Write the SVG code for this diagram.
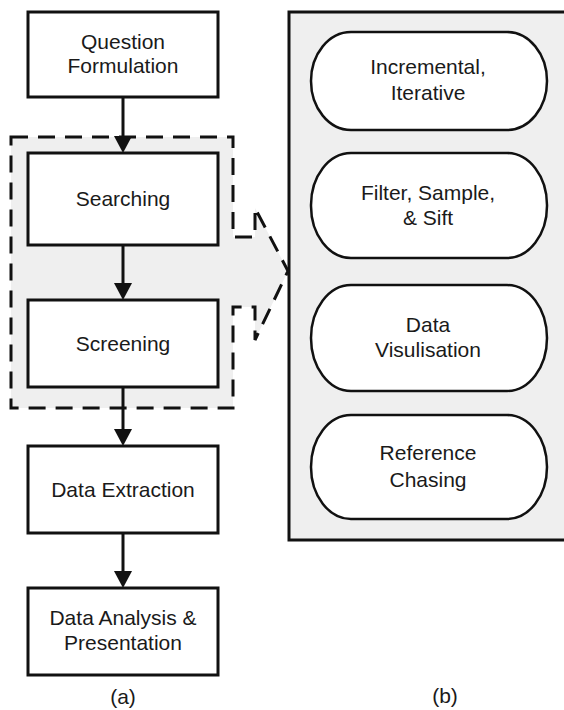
<svg xmlns="http://www.w3.org/2000/svg" width="564" height="710" viewBox="0 0 564 710">
  <style>
    .box { fill: #ffffff; stroke: #111111; stroke-width: 3; }
    .pill { fill: #ffffff; stroke: #111111; stroke-width: 2.5; }
    .panel { fill: #efefef; stroke: #111111; stroke-width: 3; }
    .callout { fill: #efefef; stroke: #111111; stroke-width: 3; stroke-dasharray: 17 10; stroke-linejoin: miter; }
    .conn { fill: none; stroke: #111111; stroke-width: 3; marker-end: url(#arrow); }
    text { font-family: "Liberation Sans", Arial, sans-serif; font-size: 21px; fill: #1a1a1a; text-anchor: middle; }
  </style>
  <defs>
    <marker id="arrow" viewBox="0 0 17 18" refX="7" refY="9" markerWidth="17" markerHeight="18" markerUnits="userSpaceOnUse" orient="auto">
      <path d="M0,0 L17,9 L0,18 Z" fill="#111111"/>
    </marker>
  </defs>
  <rect width="564" height="710" fill="#ffffff"/>

  <g id="panel-b">
    <rect class="panel" x="289" y="12" width="290" height="528"/>
  </g>

  <g id="group-callout">
    <path class="callout" d="M11,137 H233 V237 H255 V208 L288,271 L255,340 V307 H233 V408 H11 Z"/>
  </g>

  <g id="connectors">
    <line class="conn" x1="123" y1="97" x2="123" y2="143"/>
    <line class="conn" x1="123" y1="245" x2="123" y2="290"/>
    <line class="conn" x1="123" y1="387" x2="123" y2="436"/>
    <line class="conn" x1="123" y1="533" x2="123" y2="578"/>
  </g>

  <g id="question-formulation">
    <rect class="box" x="28" y="12" width="190" height="85"/>
    <text x="123" y="49">Question</text>
    <text x="123" y="73">Formulation</text>
  </g>
  <g id="searching">
    <rect class="box" x="28" y="153" width="190" height="92"/>
    <text x="123" y="206">Searching</text>
  </g>
  <g id="screening">
    <rect class="box" x="28" y="300" width="190" height="87"/>
    <text x="123" y="351">Screening</text>
  </g>
  <g id="data-extraction">
    <rect class="box" x="28" y="446" width="190" height="87"/>
    <text x="123" y="497">Data Extraction</text>
  </g>
  <g id="data-analysis">
    <rect class="box" x="28" y="588" width="190" height="87"/>
    <text x="123" y="625">Data Analysis &amp;</text>
    <text x="123" y="650">Presentation</text>
  </g>

  <g id="incremental">
    <rect class="pill" x="311" y="32" width="236" height="98" rx="40" ry="49"/>
    <text x="428" y="74">Incremental,</text>
    <text x="428" y="100">Iterative</text>
  </g>
  <g id="filter">
    <rect class="pill" x="311" y="153" width="236" height="105" rx="40" ry="52"/>
    <text x="428" y="200">Filter, Sample,</text>
    <text x="428" y="225">&amp; Sift</text>
  </g>
  <g id="visualisation">
    <rect class="pill" x="311" y="285" width="236" height="106" rx="40" ry="53"/>
    <text x="428" y="332">Data</text>
    <text x="428" y="357">Visulisation</text>
  </g>
  <g id="reference-chasing">
    <rect class="pill" x="311" y="415" width="236" height="104" rx="40" ry="52"/>
    <text x="428" y="460">Reference</text>
    <text x="428" y="487">Chasing</text>
  </g>

  <g id="labels">
    <text x="123" y="704">(a)</text>
    <text x="445" y="703">(b)</text>
  </g>
</svg>
